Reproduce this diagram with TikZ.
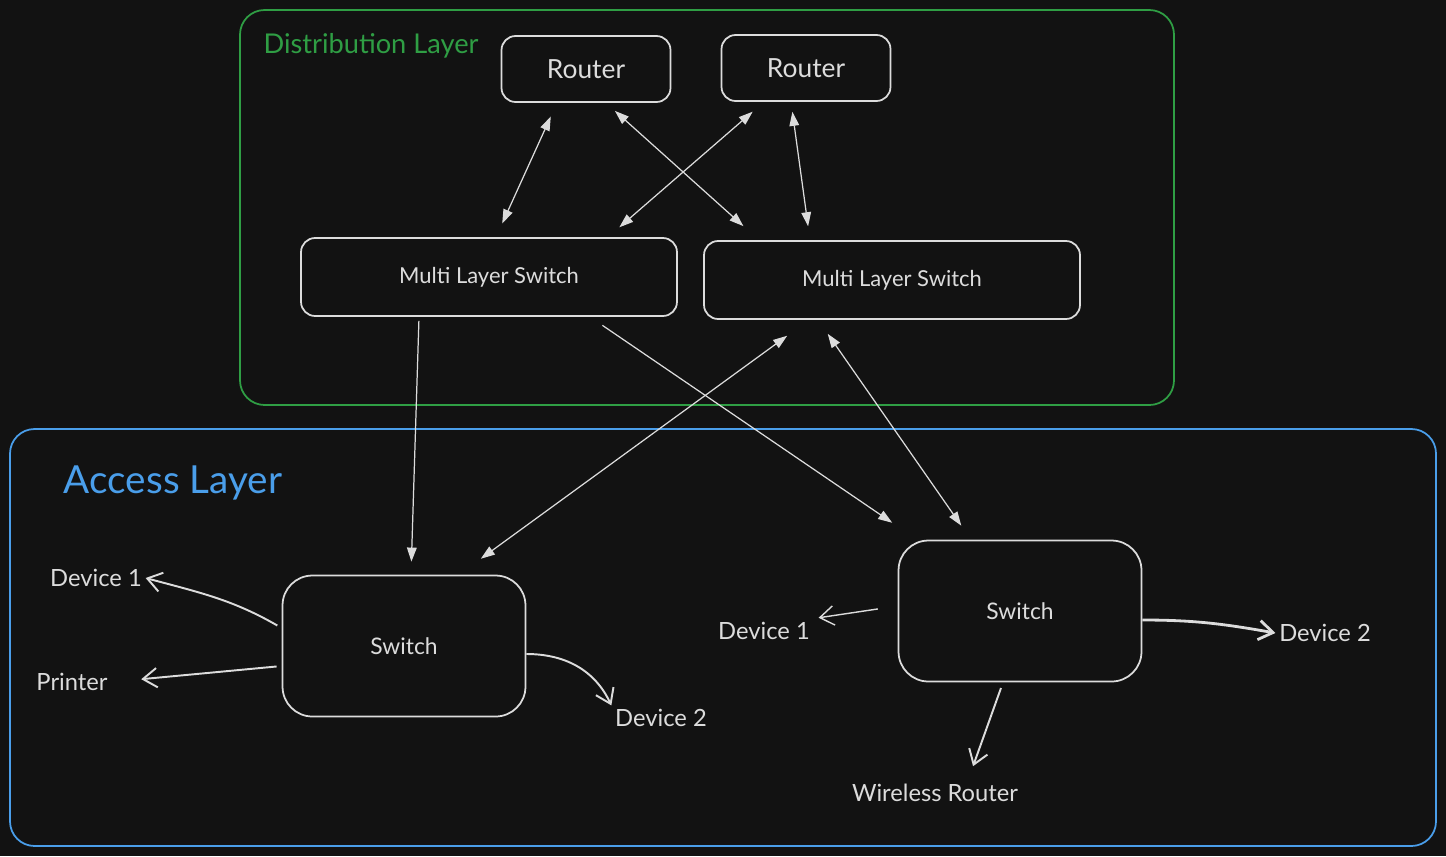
\documentclass[tikz,border=0pt]{standalone}
\usepackage{fontspec}
\setmainfont{Lato}
\usepackage{xcolor}
\usetikzlibrary{arrows.meta}
\definecolor{bgdark}{HTML}{121212}
\definecolor{inkgray}{HTML}{DCDCDC}
\definecolor{distgreen}{HTML}{2F9E44}
\definecolor{accblue}{HTML}{4A9EEA}

\begin{document}
\begin{tikzpicture}[x=0.02cm, y=-0.02cm,
    >={Triangle[length=8pt,width=5.5pt]},
    box/.style={draw=inkgray, line width=1pt, rounded corners=8pt, text=inkgray},
    link/.style={draw=inkgray, line width=0.7pt, shorten <=0.3cm, shorten >=0.3cm},
    both/.style={link, <->},
    feed/.style={draw=inkgray, line width=1.1pt, -{Straight Barb[length=8pt,width=11pt]}},
    lbl/.style={text=inkgray, inner sep=2pt, font=\fontsize{13.5}{16}\selectfont}]

        % background and layer frames
        \fill[bgdark] (0,0) rectangle (1446,856);
        \draw[distgreen, line width=1pt, rounded corners=14pt] (240,10) rectangle (1174,405);
        \draw[accblue, line width=1pt, rounded corners=14pt] (10,429) rectangle (1436,846);

        \node[text=distgreen, font=\fontsize{15.5}{18}\selectfont] (distLbl) at (371,46) {Distribution Layer};
        \node[text=accblue, font=\fontsize{22}{26}\selectfont] (accLbl) at (173,483) {Access Layer};

        % distribution layer boxes
        \node[box, minimum width=3.38cm, minimum height=1.32cm, font=\fontsize{15}{18}\selectfont] (rtrA) at (586,69) {Router};
        \node[box, minimum width=3.38cm, minimum height=1.32cm, font=\fontsize{15}{18}\selectfont] (rtrB) at (806,68) {Router};
        \node[box, minimum width=7.52cm, minimum height=1.56cm, font=\fontsize{12.5}{15}\selectfont] (mlsA) at (489,277) {Multi Layer Switch};
        \node[box, minimum width=7.52cm, minimum height=1.56cm, font=\fontsize{12.5}{15}\selectfont] (mlsB) at (892,280) {Multi Layer Switch};

        % access layer boxes
        \node[box, rounded corners=17pt, minimum width=4.86cm, minimum height=2.82cm, font=\fontsize{13}{16}\selectfont] (swA) at (404,646) {Switch};
        \node[box, rounded corners=17pt, minimum width=4.86cm, minimum height=2.82cm, font=\fontsize{13}{16}\selectfont] (swB) at (1020,611) {Switch};

        \node[lbl] (devA1) at (96,578) {Device 1};
        \node[lbl] (prnA) at (72,682) {Printer};
        \node[lbl] (devA2) at (661,718) {Device 2};
        \node[lbl] (devB1) at (764,631) {Device 1};
        \node[lbl] (devB2) at (1325,633) {Device 2};
        \node[lbl] (wrlB) at (935,793) {Wireless Router};

        % router to multi layer switch links
        \draw[both] ([xshift=-0.58cm]rtrA.south) -- ([xshift=0.14cm]mlsA.north);
        \draw[both, shorten <=0.24cm, shorten >=0.42cm] ([xshift=0.40cm]rtrA.south) -- ([xshift=-2.66cm]mlsB.north);
        \draw[both] ([xshift=-0.84cm]rtrB.south) -- ([xshift=2.38cm]mlsA.north);
        \draw[both, shorten <=0.2cm, shorten >=0.28cm] ([xshift=-0.30cm]rtrB.south) -- ([xshift=-1.64cm]mlsB.north);

        % down to the access layer
        \draw[link, shorten <=0.08cm, shorten >=0.26cm, ->] ([xshift=-1.4cm]mlsA.south) -- ([xshift=0.14cm]swA.north);
        \draw[link, shorten <=0.3cm, shorten >=0.6cm, ->] ([xshift=2.02cm]mlsA.south) -- ([xshift=-2.06cm]swB.north);
        \draw[both, shorten <=0.54cm, shorten >=0.54cm] ([xshift=-1.66cm]mlsB.south) -- ([xshift=1.1cm]swA.north);
        \draw[both, shorten <=0.34cm, shorten >=0.34cm] ([xshift=-1.48cm]mlsB.south) -- ([xshift=-0.98cm]swB.north);

        % switch to devices
        \draw[feed, shorten <=0.1cm] ([yshift=0.36cm]swA.west) to[out=150,in=-15] (devA1.east);
        \draw[feed, shorten <=0.1cm, shorten >=0.6cm] ([yshift=-0.4cm]swA.west) -- (prnA.east);
        \draw[feed] ([yshift=-0.16cm]swA.east) to[out=0,in=115] (devA2.north west);
        \draw[feed, line width=0.8pt, shorten <=0.4cm, shorten >=0.1cm] ([yshift=0.1cm]swB.west) -- ([yshift=0.25cm]devB1.east);
        \draw[feed, line width=1.6pt] ([yshift=-0.18cm]swB.east) to[out=0,in=170] (devB2.west);
        \draw[feed, shorten <=0.12cm, shorten >=0.3cm] ([xshift=-0.34cm]swB.south) -- ([xshift=0.66cm]wrlB.north);
    \end{tikzpicture}
\end{document}
